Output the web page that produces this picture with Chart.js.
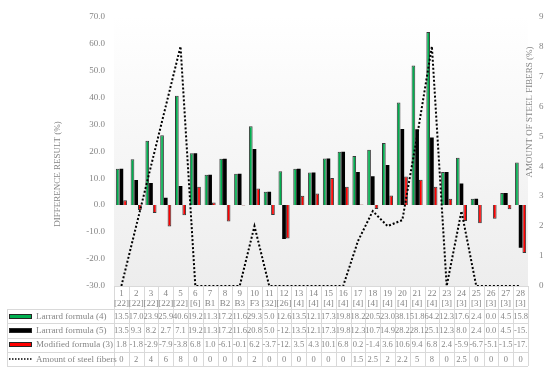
<!DOCTYPE html>
<html><head><meta charset="utf-8">
<script src="https://cdn.jsdelivr.net/npm/chart.js@4.4.0/dist/chart.umd.min.js"></script>
<style>html,body{margin:0;padding:0;background:#fff;}</style>
</head><body>
<canvas id="c" width="550" height="370"></canvas>
<script>
const categories = ['1','2','3','4','5','6','7','8','9','10','11','12','13','14','15','16','17','18','19','20','21','22','23','24','25','26','27','28'];
const refs = ['[22]','[22]','[22]','[22]','[22]','[6]','B1','B2','B3','F3','[32]','[26]','[4]','[4]','[4]','[4]','[4]','[4]','[4]','[4]','[4]','[4]','[3]','[3]','[3]','[3]','[3]','[3]'];
const larrard4 = [13.5,17.0,23.9,25.9,40.6,19.2,11.3,17.2,11.6,29.3,5.0,12.6,13.5,12.1,17.3,19.8,18.2,20.5,23.0,38.1,51.8,64.2,12.3,17.6,2.4,0.0,4.5,15.8];
const larrard5 = [13.5,9.3,8.2,2.7,7.1,19.2,11.3,17.2,11.6,20.8,5.0,-12.6,13.5,12.1,17.3,19.8,12.3,10.7,14.9,28.2,28.1,25.1,12.3,8.0,2.4,0.0,4.5,-15.8];
const modified3 = [1.8,-1.8,-2.9,-7.9,-3.8,6.8,1.0,-6.1,-0.1,6.2,-3.7,-12.4,3.5,4.3,10.1,6.8,0.2,-1.4,3.6,10.6,9.4,6.8,2.4,-5.9,-6.7,-5.1,-1.5,-17.8];
const steelFibers = [0,2,4,6,8,0,0,0,0,2,0,0,0,0,0,0,1.5,2.5,2,2.2,5,8,0,2.5,0,0,0,0];
const leftAxisRange = [-30, 70, 10];
const rightAxisRange = [0, 9, 1];
const seriesNames = ['Larrard formula (4)','Larrard formula (5)','Modified formula (3)','Amount of steel fibers'];
const leftTitle = 'DIFFERENCE RESULT (%)';
const rightTitle = 'AMOUNT OF STEEL FIBERS (%)';

const GREEN = '#00b050', RED = '#ff0000', EDGE = '#3a3a3a';
const TXT = '#858585', GRID = '#d9d9d9';
const FONT = '"Liberation Serif", "Times New Roman", serif';

const bgPlugin = {
  id: 'plotBg',
  beforeDraw(chart) {
    const {ctx, chartArea: a} = chart;
    const g = ctx.createLinearGradient(0, a.top, 0, a.bottom);
    g.addColorStop(0, '#ffffff');
    g.addColorStop(1, '#ededed');
    ctx.save();
    ctx.fillStyle = g;
    ctx.fillRect(a.left, a.top, a.right - a.left, a.bottom - a.top);
    ctx.restore();
  }
};

function fitText(ctx, s, w) {
  let t = s;
  while (t.length > 1 && ctx.measureText(t).width > w) t = t.slice(0, -1);
  return t;
}

const tablePlugin = {
  id: 'dataTable',
  afterDraw(chart) {
    const ctx = chart.ctx, xs = chart.scales.x, a = chart.chartArea;
    const n = categories.length;
    const step = xs.getPixelForValue(1) - xs.getPixelForValue(0);
    const legL = 7;
    const top = a.bottom;
    const hdrB = top + 23;
    const rowH = 14.25;
    const bottom = hdrB + 4 * rowH;
    ctx.save();
    ctx.strokeStyle = GRID; ctx.lineWidth = 1;
    const hl = (x1, x2, y) => { ctx.beginPath(); ctx.moveTo(x1, Math.round(y) + 0.5); ctx.lineTo(x2, Math.round(y) + 0.5); ctx.stroke(); };
    const vl = (x, y1, y2) => { ctx.beginPath(); ctx.moveTo(Math.round(x) + 0.5, y1); ctx.lineTo(Math.round(x) + 0.5, y2); ctx.stroke(); };
    hl(a.left, a.right, top);
    for (let r = 0; r <= 4; r++) hl(legL, a.right, hdrB + r * rowH);
    for (let i = 0; i < n; i++) vl(xs.getPixelForValue(i) - step / 2, top, bottom);
    vl(xs.getPixelForValue(n - 1) + step / 2, top, bottom);
    vl(legL, hdrB, bottom);

    ctx.fillStyle = TXT;
    ctx.textAlign = 'center'; ctx.textBaseline = 'middle';
    ctx.font = '9px ' + FONT;
    for (let i = 0; i < n; i++) {
      const cx = xs.getPixelForValue(i);
      ctx.fillText(categories[i], cx, top + 7.5);
      ctx.fillText(fitText(ctx, refs[i], step + 2), cx, top + 18);
    }
    const rows = [
      {data: larrard4, fmt: v => v.toFixed(1)},
      {data: larrard5, fmt: v => v.toFixed(1)},
      {data: modified3, fmt: v => v.toFixed(1)},
      {data: steelFibers, fmt: v => String(v)}
    ];
    ctx.font = '8.5px ' + FONT;
    rows.forEach((row, r) => {
      const cy = hdrB + r * rowH + rowH / 2 + 0.5;
      row.data.forEach((v, i) => {
        ctx.fillText(fitText(ctx, row.fmt(v), step + 2), xs.getPixelForValue(i), cy);
      });
    });
    // legend keys
    ctx.textAlign = 'left';
    ctx.font = '9px ' + FONT;
    const keyFills = [GREEN, '#000000', RED];
    for (let r = 0; r < 4; r++) {
      const cy = hdrB + r * rowH + rowH / 2 + 0.5;
      if (r < 3) {
        ctx.fillStyle = keyFills[r];
        ctx.fillRect(9, Math.round(cy) - 3, 23, 5);
        ctx.strokeStyle = '#262626';
        ctx.strokeRect(9.5, Math.round(cy) - 2.5, 22, 4);
      } else {
        ctx.strokeStyle = '#000';
        ctx.lineWidth = 1.5;
        ctx.setLineDash([1.5, 1.5]);
        ctx.beginPath(); ctx.moveTo(9, Math.round(cy)); ctx.lineTo(32, Math.round(cy)); ctx.stroke();
        ctx.setLineDash([]);
        ctx.lineWidth = 1;
      }
      ctx.fillStyle = TXT;
      ctx.fillText(seriesNames[r], 36, cy);
    }
    // axis titles
    ctx.font = '9px ' + FONT;
    ctx.textAlign = 'center'; ctx.textBaseline = 'middle';
    ctx.fillStyle = TXT;
    ctx.save(); ctx.translate(58, 174); ctx.rotate(-Math.PI / 2); ctx.fillText(leftTitle, 0, 0); ctx.restore();
    ctx.save(); ctx.translate(530, 112); ctx.rotate(-Math.PI / 2); ctx.fillText(rightTitle, 0, 0); ctx.restore();
    ctx.restore();
  }
};

new Chart(document.getElementById('c'), {
  type: 'bar',
  data: {
    labels: categories,
    datasets: [
      {label: seriesNames[0], data: larrard4, backgroundColor: GREEN, borderColor: EDGE, borderWidth: 1, yAxisID: 'y', order: 1},
      {label: seriesNames[1], data: larrard5, backgroundColor: '#000000', borderColor: '#000000', borderWidth: 0, yAxisID: 'y', order: 1},
      {label: seriesNames[2], data: modified3, backgroundColor: RED, borderColor: EDGE, borderWidth: 1, yAxisID: 'y', order: 1},
      {type: 'line', label: seriesNames[3], data: steelFibers, borderColor: '#000', borderWidth: 2, borderDash: [2, 2], pointRadius: 0, fill: false, tension: 0, yAxisID: 'y1', order: 0}
    ]
  },
  options: {
    responsive: false,
    animation: false,
    devicePixelRatio: 1,
    categoryPercentage: 0.75,
    barPercentage: 1.0,
    layout: {padding: {top: 6, bottom: 84, left: 0, right: 0}},
    plugins: {legend: {display: false}, tooltip: {enabled: false}},
    scales: {
      x: {display: false, offset: true},
      y: {
        position: 'left', min: leftAxisRange[0], max: leftAxisRange[1],
        ticks: {stepSize: leftAxisRange[2], callback: v => Number(v).toFixed(1), color: TXT, font: {family: FONT, size: 9}, padding: 9},
        grid: {display: false, drawTicks: false}, border: {display: false},
        afterFit: s => { s.width = 114; }
      },
      y1: {
        position: 'right', min: rightAxisRange[0], max: rightAxisRange[1],
        ticks: {stepSize: rightAxisRange[2], color: TXT, font: {family: FONT, size: 9}, padding: 11},
        grid: {display: false, drawTicks: false}, border: {display: false},
        afterFit: s => { s.width = 22; }
      }
    }
  },
  plugins: [bgPlugin, tablePlugin]
});
</script>
</body></html>
